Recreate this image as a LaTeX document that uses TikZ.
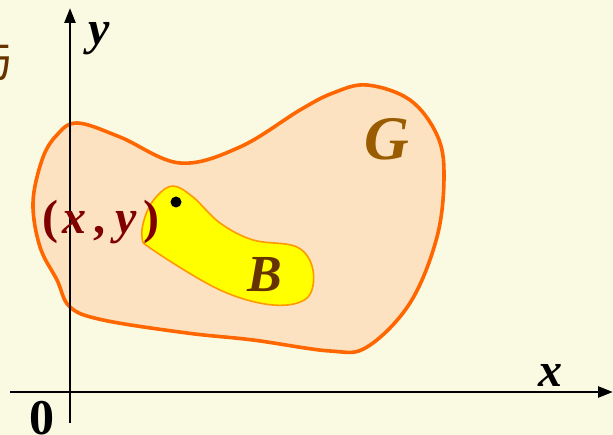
\documentclass[tikz,border=0pt]{standalone}
\usepackage{fontspec}
\setmainfont{Liberation Serif}
\newfontfamily\cjk{Noto Sans CJK SC}
\usetikzlibrary{arrows.meta}
\definecolor{bgcolor}{RGB}{250,250,226}
\definecolor{regioncolor}{RGB}{252,226,192}
\definecolor{edgecolor}{RGB}{255,102,0}
\definecolor{subcolor}{RGB}{255,255,0}
\definecolor{subedge}{RGB}{255,153,0}
\definecolor{gcolor}{RGB}{153,92,0}
\definecolor{bcolor}{RGB}{102,51,0}
\definecolor{pointcolor}{RGB}{128,0,0}

\begin{document}
\begin{tikzpicture}[
    x=1pt, y=-1pt,
    axis/.style={line width=2.6pt, -{Triangle[length=15pt, width=11pt]}},
    region/.style={draw=edgecolor, line width=3.6pt, fill=regioncolor},
    subregion/.style={draw=subedge, line width=1.6pt, fill=subcolor},
    letter/.style={anchor=base, inner sep=0pt, font=\fontsize{48}{50}\selectfont\bfseries\itshape}
]
    % Background
    \fill[bgcolor] (0,0) rectangle (613,435);
    \useasboundingbox (0,0) rectangle (613,435);

    % Cut-off heading character
    \node[anchor=center, text=bcolor, font=\cjk\fontsize{46}{46}\selectfont] (head) at (-8,60) {与};

    % Region G
    \draw[region] plot[smooth cycle, tension=0.6] coordinates {
        (77,123) (120,137) (180,163) (240,147) (300,110) (333,93) (367,85)
        (410,100) (437,135) (444,175) (437,237) (410,303) (367,347) (330,351)
        (253,340) (187,333) (103,320) (70,307) (57,280) (40,247) (33,203)
        (42,160) (56,136)};

    % Subregion B
    \draw[subregion] plot[smooth cycle, tension=0.6] coordinates {
        (173,186) (193,197) (220,223) (253,240) (297,247) (313,270)
        (307,298) (273,305) (220,290) (153,250) (142,237) (146,214) (157,196)};

    % Axes
    \coordinate (origin) at (70,392);
    \coordinate (xstart) at (10,392);
    \coordinate (xend) at (613,392);
    \coordinate (ystart) at (70,423);
    \coordinate (yend) at (70,8);
    \draw[axis] (xstart) -- (xend);
    \draw[axis] (ystart) -- (yend);

    % Point
    \node[circle, fill=black, inner sep=0pt, minimum size=11pt] (pt) at (176,202) {};

    % Labels
    \node[letter] (ylabel) at (99,45) {y};
    \node[letter] (xlabel) at (550,387) {x};
    \node[letter, font=\fontsize{50}{52}\selectfont\bfseries] (olabel) at (42,434) {0};
    \node[letter, text=gcolor, font=\fontsize{62}{64}\selectfont\bfseries\itshape] (glabel) at (387,160) {G};
    \node[letter, text=bcolor, font=\fontsize{52}{54}\selectfont\bfseries\itshape] (blabel) at (265,292) {B};
    \node[letter, anchor=base west, text=pointcolor, font=\fontsize{48}{50}\selectfont\bfseries] (ptlabel) at (42,234)
        {(\hspace{4pt}\textit{x}\hspace{7pt},\hspace{10pt}\textit{y}\hspace{7pt})};
\end{tikzpicture}
\end{document}
